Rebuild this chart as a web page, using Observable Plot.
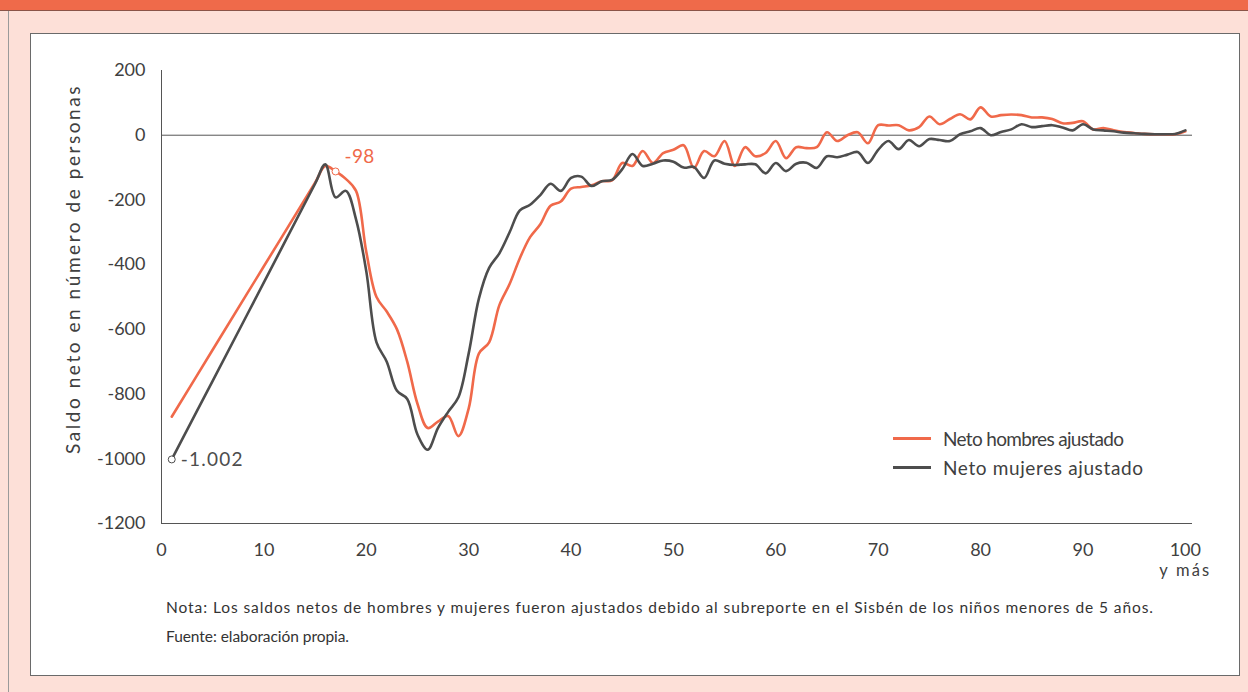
<!DOCTYPE html>
<html>
<head>
<meta charset="utf-8">
<script src="https://cdn.jsdelivr.net/npm/d3@7"></script>
<script src="https://cdn.jsdelivr.net/npm/@observablehq/plot@0.6"></script>
<style>
html, body { margin: 0; padding: 0; }
body { width: 1248px; height: 692px; position: relative; overflow: hidden; background: #fde0d8; font-family: Lato, sans-serif; }
#band { position: absolute; left: 0; top: 0; width: 1248px; height: 10px; background: #ef6a4a; border-bottom: 1px solid #8a5448; }
#leftline { position: absolute; left: 8px; top: 11px; width: 1px; height: 681px; background: #9a9a9a; }
#panel { position: absolute; left: 30px; top: 33px; width: 1208px; height: 641px; background: #fff; border: 1px solid #6a6a6a; }
#chart { position: absolute; left: 0; top: 0; }
#legend { position: absolute; left: 893px; top: 424px; }
#legend .item { height: 29px; display: flex; align-items: center; }
#legend .sw { display: inline-block; width: 38px; height: 3px; margin-right: 12px; }
#legend .lab { font-size: 19px; color: #404040; white-space: nowrap; }
#note { position: absolute; left: 166px; top: 593px; font-size: 15.5px; line-height: 29px; color: #333; }
#note div { white-space: nowrap; }
#note span { white-space: nowrap; }
</style>
</head>
<body>
<div id="band"></div>
<div id="leftline"></div>
<div id="panel"></div>
<div id="chart"></div>
<div id="legend"></div>
<div id="note"></div>
<script>
// ---- data ----
const seriesNames = ["Neto hombres ajustado", "Neto mujeres ajustado"];
const seriesColors = ["#f0694a", "#4d4d4d"];
const ages = [1, 5, 10, 15, 16, 17, 18, 19, 20, 21, 22, 23, 24, 25, 26, 27, 28, 29, 30,
  31, 32, 33, 34, 35, 36, 37, 38, 39, 40, 41, 42, 43, 44, 45, 46, 47, 48, 49, 50,
  51, 52, 53, 54, 55, 56, 57, 58, 59, 60, 61, 62, 63, 64, 65, 66, 67, 68, 69, 70,
  71, 72, 73, 74, 75, 76, 77, 78, 79, 80, 81, 82, 83, 84, 85, 86, 87, 88, 89, 90,
  91, 92, 93, 94, 95, 96, 97, 98, 99, 100];
const hombres = [-870, -663, -405, -147, -95, -112, -135, -172, -360, -500, -545, -600, -700, -830, -905, -885, -868, -930, -845,
  -675, -640, -525, -460, -380, -315, -275, -218, -205, -165, -160, -155, -142, -140, -86, -95, -49, -86, -55, -45,
  -31, -101, -49, -65, -18, -95, -37, -65, -55, -18, -71, -37, -40, -37, 9, -18, 0, 9, -25, 31,
  30, 31, 15, 25, 58, 34, 50, 65, 49, 86, 58, 62, 64, 62, 55, 55, 50, 37, 38, 43,
  18, 22, 15, 10, 7, 4, 3, 3, 3, 12];
const mujeres = [-1002, -759, -455, -150, -90, -192, -172, -260, -420, -640, -700, -790, -815, -925, -972, -905, -855, -810, -675,
  -505, -410, -365, -300, -232, -215, -185, -150, -172, -132, -128, -157, -142, -138, -105, -58, -95, -88, -78, -82,
  -100, -98, -132, -78, -88, -92, -90, -90, -118, -86, -111, -88, -85, -101, -65, -68, -60, -52, -86, -45,
  -18, -43, -15, -34, -12, -15, -18, 3, 12, 22, 0, 10, 18, 34, 25, 28, 31, 24, 15, 34,
  18, 15, 12, 8, 6, 4, 3, 3, 4, 15];
const xTicks = [0, 10, 20, 30, 40, 50, 60, 70, 80, 90, 100];
const yTicks = [200, 0, -200, -400, -600, -800, -1000, -1200];
const xExtraLabel = "y más";
const yLabel = "Saldo neto en número de personas";
const annotAges = [17, 1];
const annotSeries = ["Neto hombres ajustado", "Neto mujeres ajustado"];
const annotLabels = ["-98", "-1.002"];
const noteLines = [
  "Nota: Los saldos netos de hombres y mujeres fueron ajustados debido al subreporte en el Sisbén de los niños menores de 5 años.",
  "Fuente: elaboración propia."
];

// ---- build rows ----
const seriesValues = {[seriesNames[0]]: hombres, [seriesNames[1]]: mujeres};
const rows = seriesNames.flatMap(s => ages.map((a, i) => ({series: s, age: a, value: seriesValues[s][i]})));
const annot = annotAges.map((a, i) => ({
  age: a, series: annotSeries[i], label: annotLabels[i],
  value: seriesValues[annotSeries[i]][ages.indexOf(a)]
}));

const chart = Plot.plot({
  width: 1248, height: 600,
  marginLeft: 161, marginRight: 56, marginTop: 70, marginBottom: 77,
  style: {background: "transparent", fontFamily: "Lato, sans-serif", color: "#404040", overflow: "visible"},
  x: {domain: [0, 100.7]},
  y: {domain: [-1200, 200]},
  color: {domain: seriesNames, range: seriesColors},
  marks: [
    Plot.ruleY([0], {stroke: "#555", strokeWidth: 1}),
    Plot.ruleY([-1200], {stroke: "#555", strokeWidth: 1}),
    Plot.ruleX([0], {y1: -1200, y2: 200, stroke: "#555", strokeWidth: 1}),
    Plot.axisY({ticks: yTicks, tickSize: 0, tickPadding: 16, fontSize: 18, tickFormat: d => String(d), label: null, color: "#404040"}),
    Plot.axisX({ticks: xTicks, tickSize: 0, tickPadding: 20, fontSize: 18, tickFormat: d => String(d), label: null, color: "#404040"}),
    Plot.text([xExtraLabel], {x: 100, frameAnchor: "bottom", dy: 52, fontSize: 16.5, fill: "#404040"}),
    Plot.text([yLabel], {frameAnchor: "left", textAnchor: "middle", rotate: -90, dx: -88, dy: -28, fontSize: 19, fill: "#404040"}),
    Plot.line(rows, {x: "age", y: "value", stroke: "series", z: "series", curve: "catmull-rom", strokeWidth: 2.6}),
    Plot.dot(annot, {x: "age", y: "value", stroke: "series", fill: "white", r: 3.5, strokeWidth: 1}),
    Plot.text(annot, {x: "age", y: "value", text: "label", fill: "series", textAnchor: "start", dx: 9, fontSize: 19})
  ]
});
document.getElementById("chart").appendChild(chart);

// widen texts toward the reference's wide typeface
const fits = {"Saldo neto en número de personas": 370, "y más": 52, "-98": 30, "-1.002": 63};
d3.select(chart).selectAll("text").each(function() {
  const t = this.textContent;
  if (fits[t] != null) {
    const len = this.getComputedTextLength();
    this.style.letterSpacing = ((fits[t] - len) / t.length) + "px";
  }
  if (t === "-98") this.setAttribute("dy", "-0.75em");
});

// legend
const legend = d3.select("#legend");
seriesNames.forEach((s, i) => {
  const item = legend.append("div").attr("class", "item");
  item.append("span").attr("class", "sw").style("background", seriesColors[i]);
  item.append("span").attr("class", "lab").text(s);
});

// note
const note = d3.select("#note");
noteLines.forEach(l => note.append("div").append("span").text(l));

function fitSpan(el, target) {
  const w = el.getBoundingClientRect().width;
  const n = el.textContent.length;
  if (n > 1) el.style.letterSpacing = ((target - w) / (n - 1)) + "px";
}
const spans = document.querySelectorAll("#note span");
fitSpan(spans[0], 987);
fitSpan(spans[1], 183);
const labs = document.querySelectorAll("#legend .lab");
fitSpan(labs[0], 181);
fitSpan(labs[1], 200);
</script>
</body>
</html>
